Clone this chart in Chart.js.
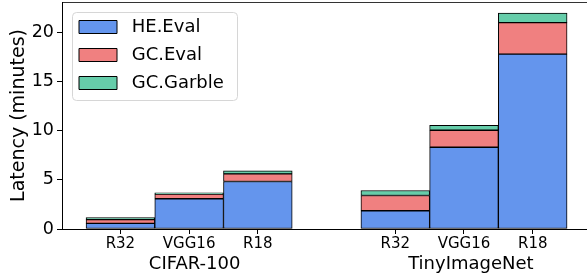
<!DOCTYPE html>
<html>
<head>
<meta charset="utf-8">
<script src="https://cdn.jsdelivr.net/npm/chart.js@4.4.1/dist/chart.umd.min.js"></script>
<style>
    html, body { margin: 0; padding: 0; background: #fff; overflow: hidden; }
    #wrap { width: 587px; height: 275px; }
</style>
</head>
<body>
<div id="wrap"><canvas id="chart-latency" width="587" height="275"></canvas></div>
<script>
// values (minutes)
var models = ["R32", "VGG16", "R18", "R32", "VGG16", "R18"];
var modelPos = [0, 1, 2, 4, 5, 6];
var groups = ["CIFAR-100", "TinyImageNet"];
var groupPos = [1.08, 5.1];
var heEval = [0.58, 3.08, 4.83, 1.86, 8.32, 17.8];
var gcEval = [0.37, 0.47, 0.78, 1.55, 1.73, 3.2];
var gcGarble = [0.22, 0.14, 0.31, 0.51, 0.51, 0.96];
var yTicks = [0, 5, 10, 15, 20];

Chart.defaults.font.family = "'DejaVu Sans', sans-serif";
Chart.defaults.color = '#000';

function points(vals) {
    return vals.map(function (v, i) { return {x: modelPos[i], y: v}; });
}

function setTicks(list) {
    return function (scale) {
        scale.ticks = list.map(function (v) { return {value: v}; });
    };
}

function noPad(w, h) {
    return function (scale) {
        if (w != null) scale.width = w;
        if (h != null) scale.height = h;
        scale.paddingTop = 0;
        scale.paddingBottom = 0;
        scale.paddingLeft = 0;
        scale.paddingRight = 0;
    };
}

// move the legend inside the plot and give it the frame
var legendFrame = {
    id: 'legendFrame',
    afterLayout: function (chart) {
        var lg = chart.legend, area = chart.chartArea;
        lg.left = area.left + 7;
        lg.top = area.top + 6;
        lg.right = lg.left + lg.width;
        lg.bottom = lg.top + lg.height;
    },
    beforeDraw: function (chart) {
        var ctx = chart.ctx, lg = chart.legend;
        var x = lg.left + 3.5, y = lg.top + 4.5, w = 165, h = 88, r = 4;
        ctx.save();
        ctx.beginPath();
        ctx.roundRect(x, y, w, h, r);
        ctx.fillStyle = 'rgba(255,255,255,0.8)';
        ctx.fill();
        ctx.strokeStyle = '#d6d6d6';
        ctx.lineWidth = 1;
        ctx.stroke();
        ctx.restore();
    }
};

var bar = function (label, vals, color) {
    return {
        label: label,
        data: points(vals),
        backgroundColor: color,
        borderColor: '#000',
        borderWidth: 1,
        borderSkipped: false,
        barPercentage: 1,
        categoryPercentage: 1
    };
};

var chartLatency = new Chart(document.getElementById("chart-latency").getContext('2d'), {
    type: 'bar',
    data: {
        datasets: [
            bar("HE.Eval", heEval, '#6495ED'),
            bar("GC.Eval", gcEval, '#F08080'),
            bar("GC.Garble", gcGarble, '#66CDAA')
        ]
    },
    options: {
        responsive: false,
        animation: false,
        devicePixelRatio: 1,
        layout: {padding: {top: 2, left: 0, right: 0, bottom: 0}},
        plugins: {
            tooltip: {enabled: false},
            legend: {
                position: 'chartArea',
                align: 'start',
                labels: {
                    boxWidth: 38,
                    boxHeight: 13,
                    padding: 10,
                    color: '#000',
                    font: {size: 18},
                    generateLabels: function (chart) {
                        var items = Chart.defaults.plugins.legend.labels.generateLabels(chart);
                        items.forEach(function (it) { it.text = ' ' + it.text; });
                        return items;
                    }
                }
            }
        },
        scales: {
            x: {
                type: 'linear',
                stacked: true,
                offset: false,
                min: -0.85,
                max: 6.79,
                weight: 0,
                afterBuildTicks: setTicks(modelPos),
                afterFit: noPad(null, 24),
                grid: {display: true, drawOnChartArea: false, offset: false, tickLength: 5, color: '#000'},
                border: {display: true, color: '#000', width: 1},
                ticks: {
                    autoSkip: false,
                    maxRotation: 0,
                    padding: 1,
                    font: {size: 15},
                    callback: function (value, index) { return models[index]; }
                }
            },
            x2: {
                type: 'linear',
                position: 'bottom',
                offset: false,
                min: -0.85,
                max: 6.79,
                weight: 1,
                afterBuildTicks: setTicks(groupPos),
                afterFit: noPad(null, 22),
                grid: {display: false, drawTicks: false, offset: false},
                border: {display: false},
                ticks: {
                    autoSkip: false,
                    maxRotation: 0,
                    padding: 1,
                    font: {size: 18},
                    callback: function (value, index) { return groups[index]; }
                }
            },
            xTop: {
                type: 'linear',
                position: 'top',
                offset: false,
                min: -0.85,
                max: 6.79,
                afterFit: noPad(null, 0),
                grid: {display: false, drawTicks: false, offset: false},
                border: {display: true, color: '#333', width: 1},
                ticks: {display: false}
            },
            y: {
                type: 'linear',
                stacked: true,
                min: 0,
                max: 23.1,
                afterBuildTicks: setTicks(yTicks),
                afterFit: noPad(62, null),
                grid: {display: true, drawOnChartArea: false, tickLength: 5, color: '#000'},
                border: {display: true, color: '#000', width: 1},
                ticks: {padding: 3, font: {size: 17.5}},
                title: {
                    display: true,
                    text: "Latency (minutes)",
                    font: {size: 19},
                    padding: {top: 8, bottom: 0}
                }
            }
        }
    },
    plugins: [legendFrame]
});
</script>
</body>
</html>
